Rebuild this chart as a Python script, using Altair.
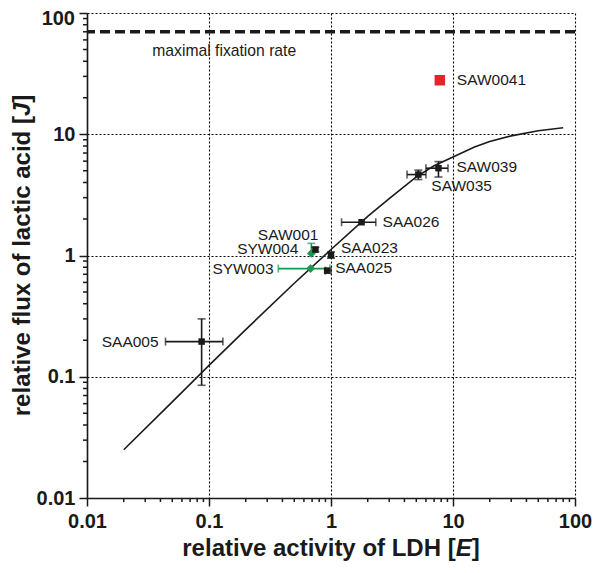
import altair as alt
import pandas as pd

FONT = "Liberation Sans"
INK = "#1a1a1a"
GREEN = "#17994b"
RED = "#e3222a"

# ---- strain measurements (relative LDH activity E, relative lactic acid flux J)
names = ["SAA005", "SYW003", "SYW004", "SAW001", "SAA023", "SAA025",
         "SAA026", "SAW035", "SAW039", "SAW0041"]
E_vals = [0.087, 0.68, 0.69, 0.745, 1.0, 0.93, 1.78, 5.2, 7.6, 7.8]
J_vals = [0.195, 0.78, 1.04, 1.12, 1.01, 0.75, 1.88, 4.65, 5.25, 27.9]
groups = ["wt", "syw", "syw", "wt", "wt", "wt", "wt", "wt", "wt", "out"]

# horizontal error bars (E range)
xerr_names = ["SAA025", "SAA005", "SYW003", "SAA026", "SAW035", "SAW039"]
xerr_lo = [0.9, 0.044, 0.37, 1.22, 4.2, 6.0]
xerr_hi = [1.0, 0.13, 0.98, 2.33, 6.0, 9.1]

# vertical error bars (J range)
yerr_names = ["SAA005", "SYW004", "SAW001", "SAA023", "SAW035", "SAW039"]
yerr_lo = [0.085, 1.04, 1.07, 0.95, 4.23, 4.44]
yerr_hi = [0.30, 1.26, 1.17, 1.07, 5.06, 5.95]

# model curve
curve_E = [0.02, 0.05, 0.1, 0.2, 0.5, 1, 2, 3, 5, 7, 10, 15, 20, 30, 50, 80]
curve_J = [0.025, 0.062, 0.124, 0.245, 0.59, 1.12, 2.1, 2.95, 4.45, 5.5,
           6.5, 7.85, 8.7, 9.7, 10.7, 11.3]

max_rate = 70
max_label = "maximal fixation rate"

# label placement (pixel offsets from the point)
label_dx = [-43, -37, -13, 3, 10, 8, 21, 13, 18, 17]
label_dy = [0, 0, -4, -15, -7, -3, 0, 11, -1, 0]
label_align = ["right", "right", "right", "right", "left", "left",
               "left", "left", "left", "left"]

major_ticks = [0.01, 0.1, 1, 10, 100]
minor_ticks = [round(d * m, 6) for d in [0.01, 0.1, 1, 10] for m in range(2, 10)]

# ---------------------------------------------------------------
W, H = 488, 485
PAD = {"left": 79, "top": 5, "right": 17, "bottom": 63}
grp_of = dict(zip(names, groups))
E_of = dict(zip(names, E_vals))
J_of = dict(zip(names, J_vals))

pts = pd.DataFrame({"name": names, "E": E_vals, "J": J_vals, "grp": groups})
xerr = pd.DataFrame({"name": xerr_names, "lo": xerr_lo, "hi": xerr_hi,
                     "J": [J_of[n] for n in xerr_names],
                     "grp": [grp_of[n] for n in xerr_names]})
yerr = pd.DataFrame({"name": yerr_names, "lo": yerr_lo, "hi": yerr_hi,
                     "E": [E_of[n] for n in yerr_names],
                     "grp": [grp_of[n] for n in yerr_names]})
xcaps = pd.concat([
    xerr[["lo", "J", "grp"]].rename(columns={"lo": "E"}),
    xerr[["hi", "J", "grp"]].rename(columns={"hi": "E"}),
])
ycaps_lo = yerr[[J_of[n] != lo for n, lo in zip(yerr_names, yerr_lo)]]
ycaps = pd.concat([
    ycaps_lo[["E", "lo", "grp"]].rename(columns={"lo": "J"}),
    yerr[["E", "hi", "grp"]].rename(columns={"hi": "J"}),
])
curve = pd.DataFrame({"E": curve_E, "J": curve_J})
minor_df = pd.DataFrame({"v": minor_ticks})


def make_axis(label_expr, pad):
    return alt.Axis(
        values=major_ticks,
        labelExpr=label_expr,
        labelFont=FONT, labelFontSize=20, labelFontWeight="bold", labelColor=INK,
        labelOverlap=False, labelFlush=False, labelPadding=pad,
        tickColor=INK, tickWidth=1.5, tickSize=8,
        domainColor=INK, domainWidth=1.6,
        grid=True, gridColor="#000000", gridDash=[2, 2], gridWidth=1.1,
        title=None,
    )


xs = alt.Scale(type="log", domain=[0.01, 100], nice=False)
ys = alt.Scale(type="log", domain=[0.01, 100], nice=False)
color_scale = alt.Scale(domain=["wt", "syw", "out"], range=[INK, GREEN, RED])


def X(f):
    return alt.X(f, scale=xs)


def Y(f):
    return alt.Y(f, scale=ys)


def C():
    return alt.Color("grp:N", scale=color_scale, legend=None)


curve_layer = alt.Chart(curve).mark_line(color=INK, strokeWidth=1.6).encode(
    x=alt.X("E:Q", scale=xs, axis=make_axis("toString(datum.value)", 5)),
    y=alt.Y("J:Q", scale=ys, axis=make_axis("datum.value > 99 ? '' : toString(datum.value)", 4)),
    order="E:Q",
)

# top y label, nudged down so it is not cut at the page top
top_label = alt.Chart(pd.DataFrame({"J": [100], "t": ["100"]})).mark_text(
    font=FONT, fontSize=20, fontWeight="bold", color=INK, align="right",
    baseline="middle", dy=6
).encode(x=alt.value(-12), y=Y("J:Q"), text="t:N")

x_minor = alt.Chart(minor_df).mark_rule(color=INK, strokeWidth=1.5).encode(
    x=X("v:Q"), y=alt.value(H), y2=alt.value(H + 4))
y_minor = alt.Chart(minor_df).mark_rule(color=INK, strokeWidth=1.5).encode(
    y=Y("v:Q"), x=alt.value(0), x2=alt.value(-4))

rate_rule = alt.Chart(pd.DataFrame({"J": [max_rate]})).mark_rule(
    color=INK, strokeWidth=3.6, strokeDash=[10, 5]
).encode(y=Y("J:Q"))

rate_text = alt.Chart(pd.DataFrame({"E": [0.0343], "J": [max_rate], "t": [max_label]})).mark_text(
    font=FONT, fontSize=15.7, color=INK, align="left", baseline="middle", dy=19
).encode(x=X("E:Q"), y=Y("J:Q"), text="t:N")

xerr_rules = alt.Chart(xerr).mark_rule(strokeWidth=1.6).encode(
    x=X("lo:Q"), x2="hi:Q", y=Y("J:Q"), color=C())
xcap_ticks = alt.Chart(xcaps).mark_tick(orient="vertical", size=8, thickness=1.6).encode(
    x=X("E:Q"), y=Y("J:Q"), color=C())
yerr_rules = alt.Chart(yerr).mark_rule(strokeWidth=1.6).encode(
    x=X("E:Q"), y=Y("lo:Q"), y2="hi:Q", color=C())
ycap_ticks = alt.Chart(ycaps).mark_tick(orient="horizontal", size=8, thickness=1.6).encode(
    x=X("E:Q"), y=Y("J:Q"), color=C())

points = alt.Chart(pts).mark_point(filled=True, opacity=1, strokeWidth=0).encode(
    x=X("E:Q"), y=Y("J:Q"), color=C(),
    shape=alt.Shape("grp:N", scale=alt.Scale(domain=["wt", "syw", "out"],
                                            range=["square", "diamond", "square"]), legend=None),
    size=alt.Size("grp:N", scale=alt.Scale(domain=["wt", "syw", "out"], range=[42, 110, 100]),
                  legend=None),
)

label_layers = []
for n, e, j, dx, dy, al in zip(names, E_vals, J_vals, label_dx, label_dy, label_align):
    label_layers.append(
        alt.Chart(pd.DataFrame({"E": [e], "J": [j], "t": [n]})).mark_text(
            font=FONT, fontSize=15.5, color=INK, align=al, baseline="middle", dx=dx, dy=dy
        ).encode(x=X("E:Q"), y=Y("J:Q"), text="t:N")
    )

# axis titles (with italic symbol)
TS = 24


def title_text(txt, x, y, align, angle=0, italic=False):
    return alt.Chart(pd.DataFrame({"t": [txt]})).mark_text(
        font=FONT, fontSize=TS, fontWeight="bold", color=INK, align=align,
        baseline="alphabetic", angle=angle, fontStyle="italic" if italic else "normal"
    ).encode(x=alt.value(x), y=alt.value(y), text="t:N")


xt_split = W / 2 - 12.392 * TS / 2 + 11.392 * TS
xt_y = 543
x_titles = [
    title_text("relative activity of LDH [", xt_split, xt_y, "right"),
    title_text("E", xt_split, xt_y, "left", italic=True),
    title_text("]", xt_split + 0.667 * TS, xt_y, "left"),
]
yt_x = -57
yt_split = H / 2 + 13.394 * TS / 2 - 12.505 * TS
y_titles = [
    title_text("relative flux of lactic acid [", yt_x, yt_split, "right", angle=270),
    title_text("J", yt_x, yt_split, "left", angle=270, italic=True),
    title_text("]", yt_x, yt_split - 0.556 * TS, "left", angle=270),
]

chart = alt.layer(
    curve_layer, top_label, x_minor, y_minor, rate_rule, rate_text,
    xerr_rules, xcap_ticks, yerr_rules, ycap_ticks,
    points, *label_layers, *x_titles, *y_titles,
).properties(
    width=W, height=H,
    padding=PAD,
    autosize=alt.AutoSizeParams(type="none"),
).configure_view(stroke=None)

chart.save("out.html", embed_options={"renderer": "svg", "actions": False})
